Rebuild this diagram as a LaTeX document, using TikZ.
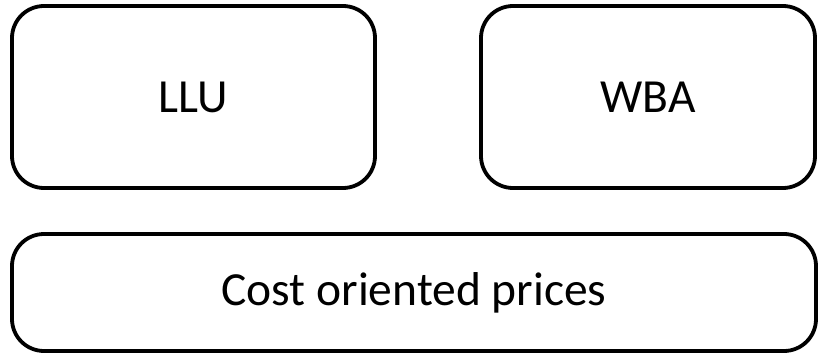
\documentclass[tikz,border=0pt]{standalone}
\usepackage{fontspec}
\setmainfont{Carlito}
\begin{document}
\begin{tikzpicture}[x=1pt,y=1pt,
    block/.style={draw,line width=3.8pt,rounded corners=32pt,
        inner sep=0pt,font=\fontsize{47.5}{54}\selectfont}]
                \useasboundingbox
                    (0,0) rectangle (819,354);
                \node[block,minimum width=363pt,minimum height=182pt]
                    (llu) at (193.5,257) {LLU};
                \node[block,minimum width=334pt,minimum height=182pt]
                    (wba) at (648,257) {WBA};
                \node[block,minimum width=804pt,minimum height=117pt]
                    (prices) at (414,61.5) {Cost oriented prices};
            \end{tikzpicture}
\end{document}
